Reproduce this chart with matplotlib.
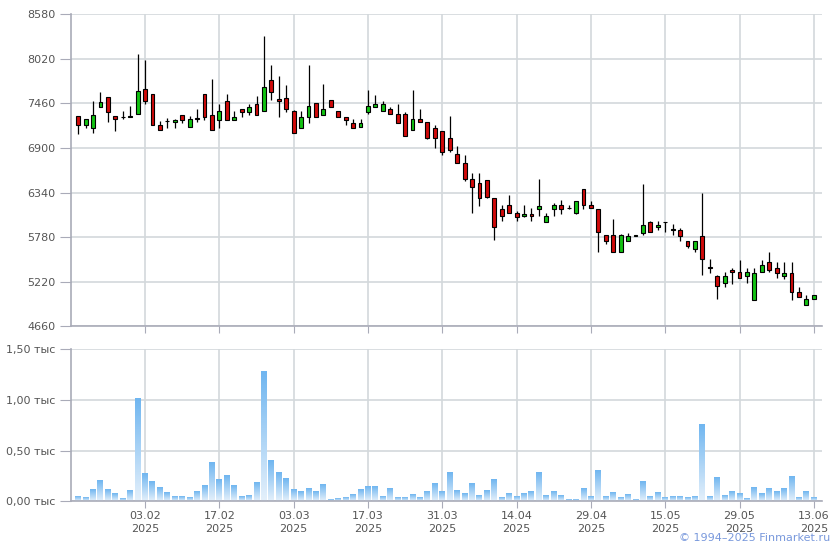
import numpy as np
import matplotlib
matplotlib.use("Agg")
import matplotlib.pyplot as plt
from matplotlib.colors import LinearSegmentedColormap

# OHLC per trading day (index 0..99)
opens = [7300, 7195, 7150, 7415, 7537, 7298, 7290, 7295, 7332, 7638,
         7575, 7194, 7236, 7232, 7320, 7169, 7275, 7575, 7320, 7257,
         7496, 7257, 7395, 7352, 7458, 7370, 7760, 7510, 7533, 7361,
         7157, 7295, 7460, 7320, 7508, 7370, 7295, 7219, 7169, 7358,
         7420, 7370, 7395, 7332, 7332, 7131, 7270, 7232, 7157, 7119,
         7031, 6830, 6717, 6515, 6460, 6494, 6277, 6139, 6189, 6089,
         6046, 6076, 6139, 5976, 6139, 6189, 6151, 6089, 6390, 6189,
         6139, 5807, 5807, 5593, 5732, 5800, 5838, 5975, 5913, 5975,
         5875, 5875, 5737, 5637, 5800, 5405, 5297, 5209, 5372, 5347,
         5297, 4995, 5347, 5473, 5398, 5297, 5335, 5096, 4933, 5008]
highs = [7300, 7270, 7495, 7600, 7537, 7298, 7360, 7425, 8077, 8010,
         7575, 7236, 7282, 7270, 7320, 7298, 7395, 7575, 7772, 7458,
         7575, 7361, 7395, 7458, 7558, 8305, 7940, 7810, 7697, 7375,
         7361, 7939, 7460, 7709, 7508, 7370, 7295, 7261, 7270, 7634,
         7571, 7496, 7420, 7458, 7358, 7634, 7395, 7232, 7194, 7119,
         7298, 6922, 6817, 6591, 6591, 6494, 6277, 6180, 6311, 6110,
         6189, 6151, 6515, 6089, 6214, 6252, 6189, 6240, 6390, 6240,
         6139, 5807, 6013, 5820, 5838, 5805, 6453, 5988, 5988, 5975,
         5950, 5895, 5737, 5737, 6340, 5511, 5310, 5342, 5398, 5498,
         5398, 5398, 5498, 5599, 5473, 5473, 5473, 5159, 5058, 5058]
lows = [7070, 7155, 7090, 7415, 7227, 7115, 7265, 7285, 7332, 7458,
        7190, 7131, 7157, 7157, 7219, 7169, 7232, 7248, 7131, 7151,
        7257, 7257, 7295, 7320, 7320, 7370, 7503, 7290, 7352, 7094,
        7157, 7219, 7295, 7320, 7420, 7295, 7194, 7151, 7169, 7332,
        7420, 7370, 7332, 7219, 7056, 7131, 7232, 7010, 6900, 6815,
        6850, 6717, 6486, 6084, 6172, 6268, 5744, 5983, 6089, 5983,
        6034, 5983, 6051, 5976, 6046, 6076, 6139, 6076, 6139, 6151,
        5593, 5694, 5593, 5593, 5732, 5795, 5812, 5850, 5875, 5845,
        5812, 5737, 5649, 5599, 5310, 5335, 5008, 5159, 5197, 5272,
        5209, 4995, 5347, 5347, 5272, 5259, 4995, 5033, 4933, 5008]
closes = [7195, 7270, 7320, 7475, 7352, 7270, 7295, 7298, 7613, 7496,
          7194, 7131, 7238, 7257, 7257, 7270, 7262, 7295, 7131, 7361,
          7257, 7295, 7352, 7420, 7320, 7672, 7609, 7490, 7395, 7094,
          7295, 7433, 7295, 7395, 7420, 7295, 7257, 7151, 7219, 7433,
          7458, 7458, 7332, 7219, 7056, 7270, 7232, 7026, 7031, 6850,
          6880, 6717, 6511, 6415, 6272, 6285, 5913, 6051, 6089, 6038,
          6076, 6046, 6176, 6051, 6189, 6139, 6143, 6240, 6189, 6151,
          5845, 5732, 5593, 5807, 5794, 5802, 5938, 5850, 5938, 5975,
          5877, 5800, 5674, 5737, 5511, 5398, 5171, 5297, 5342, 5272,
          5347, 5335, 5435, 5372, 5335, 5335, 5096, 5033, 5008, 5058]
# volume, thousands
volumes = [0.042, 0.033, 0.111, 0.199, 0.111, 0.072, 0.023, 0.101, 1.013, 0.268,
           0.190, 0.131, 0.082, 0.042, 0.042, 0.033, 0.092, 0.150, 0.376, 0.209,
           0.248, 0.150, 0.042, 0.052, 0.180, 1.278, 0.395, 0.278, 0.219, 0.111,
           0.092, 0.121, 0.092, 0.160, 0.013, 0.023, 0.033, 0.062, 0.111, 0.140,
           0.140, 0.042, 0.121, 0.033, 0.033, 0.062, 0.033, 0.092, 0.170, 0.092,
           0.278, 0.101, 0.072, 0.170, 0.052, 0.101, 0.209, 0.033, 0.072, 0.042,
           0.072, 0.092, 0.278, 0.052, 0.092, 0.052, 0.013, 0.013, 0.121, 0.042,
           0.297, 0.042, 0.082, 0.033, 0.062, 0.013, 0.190, 0.042, 0.082, 0.033,
           0.042, 0.042, 0.033, 0.042, 0.758, 0.042, 0.229, 0.052, 0.092, 0.072,
           0.023, 0.131, 0.072, 0.121, 0.092, 0.121, 0.239, 0.033, 0.092, 0.033]

date_labels = ["03.02", "17.02", "03.03", "17.03", "31.03",
               "14.04", "29.04", "15.05", "29.05", "13.06"]
date_index = [9, 19, 29, 39, 49, 59, 69, 79, 89, 99]
year_label = "2025"
price_ticks = [4660, 5220, 5780, 6340, 6900, 7460, 8020, 8580]
vol_ticks = [0.0, 0.5, 1.0, 1.5]
vol_tick_labels = ["0,00 тыс", "0,50 тыс", "1,00 тыс", "1,50 тыс"]

grid_c = "#d3d8dc"
spine_c = "#a9abb8"
text_c = "#555555"

plt.rcParams['font.family'] = ['DejaVu Sans']
fig = plt.figure(figsize=(8.4, 5.5), dpi=100)
ax = fig.add_axes([0.0842, 0.4067, 0.8944, 0.5673])
axv = fig.add_axes([0.0842, 0.0885, 0.8944, 0.2769])

x = np.arange(len(opens))
o = np.array(opens); c = np.array(closes)
up = c >= o
body_col = np.where(up, "#12c312", "#d10a0a")

# price panel
ax.vlines(x, lows, highs, color="black", lw=0.9, zorder=2)
heights = np.maximum(np.abs(c - o), 1)
ax.bar(x, heights, bottom=np.minimum(o, c), width=0.52, color=body_col,
       edgecolor="black", linewidth=0.8, zorder=3)
ax.set_xlim(-1, 100.1)
ax.set_ylim(price_ticks[0], price_ticks[-1])
ax.set_yticks(price_ticks)
ax.set_yticklabels([str(t) for t in price_ticks])
ax.set_xticks(date_index)
ax.set_xticklabels([])
ax.grid(True, color=grid_c, lw=1.2)
ax.set_axisbelow(True)

# volume panel with gradient bars
cmap = LinearSegmentedColormap.from_list("vol", ["#e4f0fb", "#70b6f0"])
grad = np.linspace(0, 1, 64).reshape(-1, 1)
for xi, v in zip(x, volumes):
    axv.imshow(grad, cmap=cmap, origin="lower", aspect="auto",
               extent=(xi - 0.4, xi + 0.4, 0, v), zorder=2)
axv.set_xlim(-1, 100.1)
axv.set_ylim(0, 1.5)
axv.set_yticks(vol_ticks)
axv.set_yticklabels(vol_tick_labels)
axv.set_xticks(date_index)
axv.set_xticklabels([d + "\n" + year_label for d in date_labels], linespacing=1.35)
axv.grid(True, color=grid_c, lw=1.2)
axv.set_axisbelow(True)

for a in (ax, axv):
    for s in ("top", "right"):
        a.spines[s].set_visible(False)
    a.spines["left"].set_color(spine_c)
    a.spines["bottom"].set_color(spine_c)
    a.spines["left"].set_linewidth(1.2)
    a.spines["bottom"].set_linewidth(1.2)
    a.tick_params(axis="y", length=8, color=spine_c, labelsize=8, labelcolor=text_c, pad=3)
    a.tick_params(axis="x", length=5, color=spine_c, labelsize=8, labelcolor=text_c, pad=2)

fig.text(0.988, 0.013, "© 1994–2025 Finmarket.ru", ha="right", va="bottom",
         fontsize=8, color="#7898dc")

fig.savefig("out.png", dpi=100)
